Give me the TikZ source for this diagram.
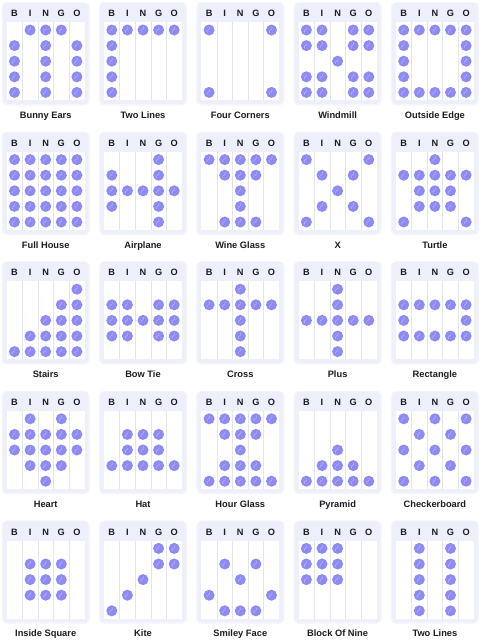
\documentclass[tikz,border=0pt]{standalone}
\usepackage{fontspec}
\setmainfont{Liberation Sans}
\usetikzlibrary{calc}
\definecolor{cardBg}{HTML}{EDEFFA}
\definecolor{cardShade}{HTML}{F5F6FC}
\definecolor{gridLine}{HTML}{E2E4EE}
\definecolor{dauberFill}{HTML}{8D8AF3}
\definecolor{dauberSwirl}{HTML}{B7B5FA}
\definecolor{ink}{HTML}{1B1B22}
\tikzset{
  cardshadow/.style = {fill=cardShade, rounded corners=5pt},
  cardbox/.style    = {fill=cardBg, rounded corners=4pt},
  gridbox/.style    = {fill=white},
  colline/.style    = {draw=gridLine, line width=0.6pt},
  hdr/.style        = {font=\bfseries\fontsize{9.2}{10}\selectfont, text=ink, inner sep=0pt},
  lbl/.style        = {font=\bfseries\fontsize{9.3}{11}\selectfont, text=ink, inner sep=0pt},
  dauber/.style     = {circle, fill=dauberFill, minimum size=11pt, inner sep=0pt,
                       path picture={\draw[dauberSwirl, line width=0.6pt, line cap=round]
                         ($(path picture bounding box.center)+(-2pt,-2.5pt)$)
                         .. controls ($(path picture bounding box.center)+(-3pt,1pt)$)
                         and ($(path picture bounding box.center)+(1.5pt,-0.5pt)$)
                         .. ($(path picture bounding box.center)+(0.5pt,3pt)$);}},
}
% #1 column, #2 row, #3 pattern name, #4 marked columns for each row (0 = none)
\newcommand{\bingocard}[4]{%
  \begin{scope}[shift={(3+97.3*#1,3+129.6*#2)}]
    \fill[cardshadow] (-1.5,-1) rectangle (86.9,102.5);
    \fill[cardbox] (0,0) rectangle (85.4,101);
    \fill[gridbox] (3.7,19.2) rectangle (81.7,97.2);
    \foreach \k in {1,...,4}
      \draw[colline] (3.7+15.6*\k,19.2) -- (3.7+15.6*\k,97.2);
    \foreach \letter [count=\cl] in {B,I,N,G,O}
      \node[hdr] (h#1#2\cl) at (-4.1+15.6*\cl,10.6) {\letter};
    \foreach \cells [count=\rw] in {#4}
      \foreach \cl in \cells {
        \ifnum\cl>0
          \node[dauber] (d#1#2\rw\cl) at (-4.1+15.6*\cl,11.4+15.6*\rw) {};
        \fi
      }
    \node[lbl, anchor=base] (name#1#2) at (42.7,115.5) {#3};
  \end{scope}}

\begin{document}
\begin{tikzpicture}[x=1pt,y=-1pt]
  \useasboundingbox (0,0) rectangle (487,640);
  % row 1
  \bingocard{0}{0}{Bunny Ears}{{2,3,4},{1,3,5},{1,3,5},{1,3,5},{1,3,5}}
  \bingocard{1}{0}{Two Lines}{{1,2,3,4,5},{1},{1},{1},{1}}
  \bingocard{2}{0}{Four Corners}{{1,5},{0},{0},{0},{1,5}}
  \bingocard{3}{0}{Windmill}{{1,2,4,5},{1,2,4,5},{3},{1,2,4,5},{1,2,4,5}}
  \bingocard{4}{0}{Outside Edge}{{1,2,3,4,5},{1,5},{1,5},{1,5},{1,2,3,4,5}}
  % row 2
  \bingocard{0}{1}{Full House}{{1,2,3,4,5},{1,2,3,4,5},{1,2,3,4,5},{1,2,3,4,5},{1,2,3,4,5}}
  \bingocard{1}{1}{Airplane}{{4},{1,4},{1,2,3,4,5},{1,4},{4}}
  \bingocard{2}{1}{Wine Glass}{{1,2,3,4,5},{2,3,4},{3},{3},{2,3,4}}
  \bingocard{3}{1}{X}{{1,5},{2,4},{3},{2,4},{1,5}}
  \bingocard{4}{1}{Turtle}{{3},{1,2,3,4,5},{2,3,4},{2,3,4},{1,5}}
  % row 3
  \bingocard{0}{2}{Stairs}{{5},{4,5},{3,4,5},{2,3,4,5},{1,2,3,4,5}}
  \bingocard{1}{2}{Bow Tie}{{0},{1,2,4,5},{1,2,3,4,5},{1,2,4,5},{0}}
  \bingocard{2}{2}{Cross}{{3},{1,2,3,4,5},{3},{3},{3}}
  \bingocard{3}{2}{Plus}{{3},{3},{1,2,3,4,5},{3},{3}}
  \bingocard{4}{2}{Rectangle}{{0},{1,2,3,4,5},{1,5},{1,2,3,4,5},{0}}
  % row 4
  \bingocard{0}{3}{Heart}{{2,4},{1,2,3,4,5},{1,2,3,4,5},{2,3,4},{3}}
  \bingocard{1}{3}{Hat}{{0},{2,3,4},{2,3,4},{1,2,3,4,5},{0}}
  \bingocard{2}{3}{Hour Glass}{{1,2,3,4,5},{2,3,4},{3},{2,3,4},{1,2,3,4,5}}
  \bingocard{3}{3}{Pyramid}{{0},{0},{3},{2,3,4},{1,2,3,4,5}}
  \bingocard{4}{3}{Checkerboard}{{1,3,5},{2,4},{1,3,5},{2,4},{1,3,5}}
  % row 5
  \bingocard{0}{4}{Inside Square}{{0},{2,3,4},{2,3,4},{2,3,4},{0}}
  \bingocard{1}{4}{Kite}{{4,5},{4,5},{3},{2},{1}}
  \bingocard{2}{4}{Smiley Face}{{0},{2,4},{3},{1,5},{2,3,4}}
  \bingocard{3}{4}{Block Of Nine}{{1,2,3},{1,2,3},{1,2,3},{0},{0}}
  \bingocard{4}{4}{Two Lines}{{2,4},{2,4},{2,4},{2,4},{2,4}}
\end{tikzpicture}
\end{document}
